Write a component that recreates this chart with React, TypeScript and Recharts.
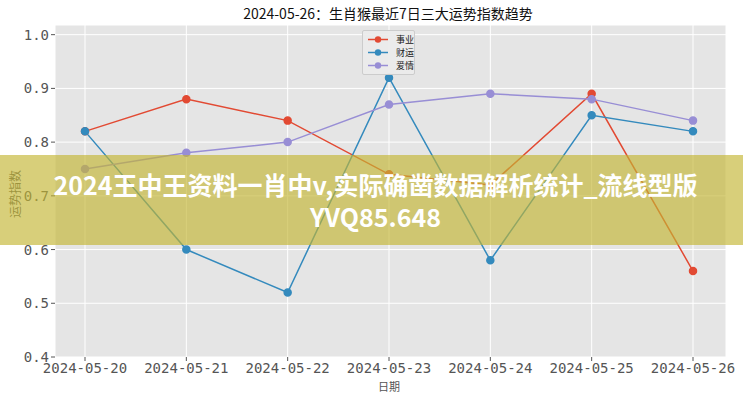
import React from 'react';
import { LineChart, Line, XAxis, YAxis, CartesianGrid } from 'recharts';

const dates = ['2024-05-20', '2024-05-21', '2024-05-22', '2024-05-23', '2024-05-24', '2024-05-25', '2024-05-26'];
const career = [0.82, 0.88, 0.84, 0.74, 0.72, 0.89, 0.56];
const wealth = [0.82, 0.6, 0.52, 0.92, 0.58, 0.85, 0.82];
const love = [0.75, 0.78, 0.8, 0.87, 0.89, 0.88, 0.84];
const yTicks = [0.4, 0.5, 0.6, 0.7, 0.8, 0.9, 1.0];

const seriesNames = ['事业', '财运', '爱情'];
const colors = ['#E24A33', '#348ABD', '#988ED5'];

const data = dates.map((d, i) => ({ date: d, career: career[i], wealth: wealth[i], love: love[i] }));

const FONT = '"Noto Sans CJK SC", "Noto Sans", sans-serif';
const MONO = '"DejaVu Sans Mono", "Noto Sans CJK SC", monospace';

export default function App() {
  return (
    <div style={{ position: 'absolute', left: 0, top: 0, width: 743, height: 400, background: '#fff', fontFamily: FONT, overflow: 'hidden' }}>
      <LineChart width={743} height={400} data={data} margin={{ top: 25, right: 17, bottom: 0, left: 0 }}>
        <CartesianGrid stroke="#ffffff" strokeWidth={1} fill="#E5E5E5" />
        <XAxis
          dataKey="date"
          padding={{ left: 30, right: 33 }}
          axisLine={false}
          tickLine={{ stroke: '#555' }}
          tickSize={4}
          height={43}
          interval={0}
          tick={{ fill: '#555', fontSize: 14, fontFamily: MONO }}
        />
        <YAxis
          type="number"
          domain={[0.4, 1.018]}
          ticks={yTicks}
          allowDataOverflow
          width={55}
          axisLine={false}
          tickLine={{ stroke: '#555' }}
          tickSize={4}
          tickFormatter={(v: number) => v.toFixed(1)}
          tick={{ fill: '#555', fontSize: 14, fontFamily: MONO }}
        />
        <Line dataKey="career" name={seriesNames[0]} stroke={colors[0]} strokeWidth={1.5} dot={{ r: 3.5, fill: colors[0], stroke: colors[0] }} isAnimationActive={false} />
        <Line dataKey="wealth" name={seriesNames[1]} stroke={colors[1]} strokeWidth={1.5} dot={{ r: 3.5, fill: colors[1], stroke: colors[1] }} isAnimationActive={false} />
        <Line dataKey="love" name={seriesNames[2]} stroke={colors[2]} strokeWidth={1.5} dot={{ r: 3.5, fill: colors[2], stroke: colors[2] }} isAnimationActive={false} />
      </LineChart>

      <div style={{ position: 'absolute', left: 0, top: 3, width: 776, textAlign: 'center', fontSize: 14, color: '#111', lineHeight: '20px' }}>
        2024-05-26：生肖猴最近7日三大运势指数趋势
      </div>

      <div style={{ position: 'absolute', left: 362, top: 30, width: 53, height: 45, background: 'rgba(235,235,235,0.9)', border: '1px solid #ccc', borderRadius: 2, boxSizing: 'border-box', paddingTop: 2 }}>
        {seriesNames.map((n, i) => (
          <div key={n} style={{ display: 'flex', alignItems: 'center', height: 13, fontSize: 9, color: '#222' }}>
            <svg width={26} height={13} style={{ marginLeft: 3 }}>
              <line x1={2} y1={6.5} x2={22} y2={6.5} stroke={colors[i]} strokeWidth={1.5} />
              <circle cx={12} cy={6.5} r={3.2} fill={colors[i]} />
            </svg>
            <span style={{ marginLeft: 4 }}>{n}</span>
          </div>
        ))}
      </div>

      <div style={{ position: 'absolute', left: 14, top: 194, transform: 'translate(-50%, -50%) rotate(-90deg)', fontSize: 12, color: '#555', whiteSpace: 'nowrap' }}>
        运势指数
      </div>
      <div style={{ position: 'absolute', left: 389, top: 386, transform: 'translate(-50%, -50%)', fontSize: 11, color: '#555', whiteSpace: 'nowrap' }}>
        日期
      </div>

      <div style={{ position: 'absolute', left: 0, top: 155, width: 743, height: 90, background: 'rgba(195,181,51,0.65)', display: 'flex', flexDirection: 'column', alignItems: 'center', justifyContent: 'center', color: '#fff', fontWeight: 700, fontSize: 25, lineHeight: '32px', textAlign: 'center', fontFamily: '"Noto Sans CJK SC", "Open Sans", sans-serif', paddingLeft: 8, boxSizing: 'border-box' }}>
        <div>2024王中王资料一肖中v,实际确凿数据解析统计_流线型版</div>
        <div>YVQ85.648</div>
      </div>
    </div>
  );
}
